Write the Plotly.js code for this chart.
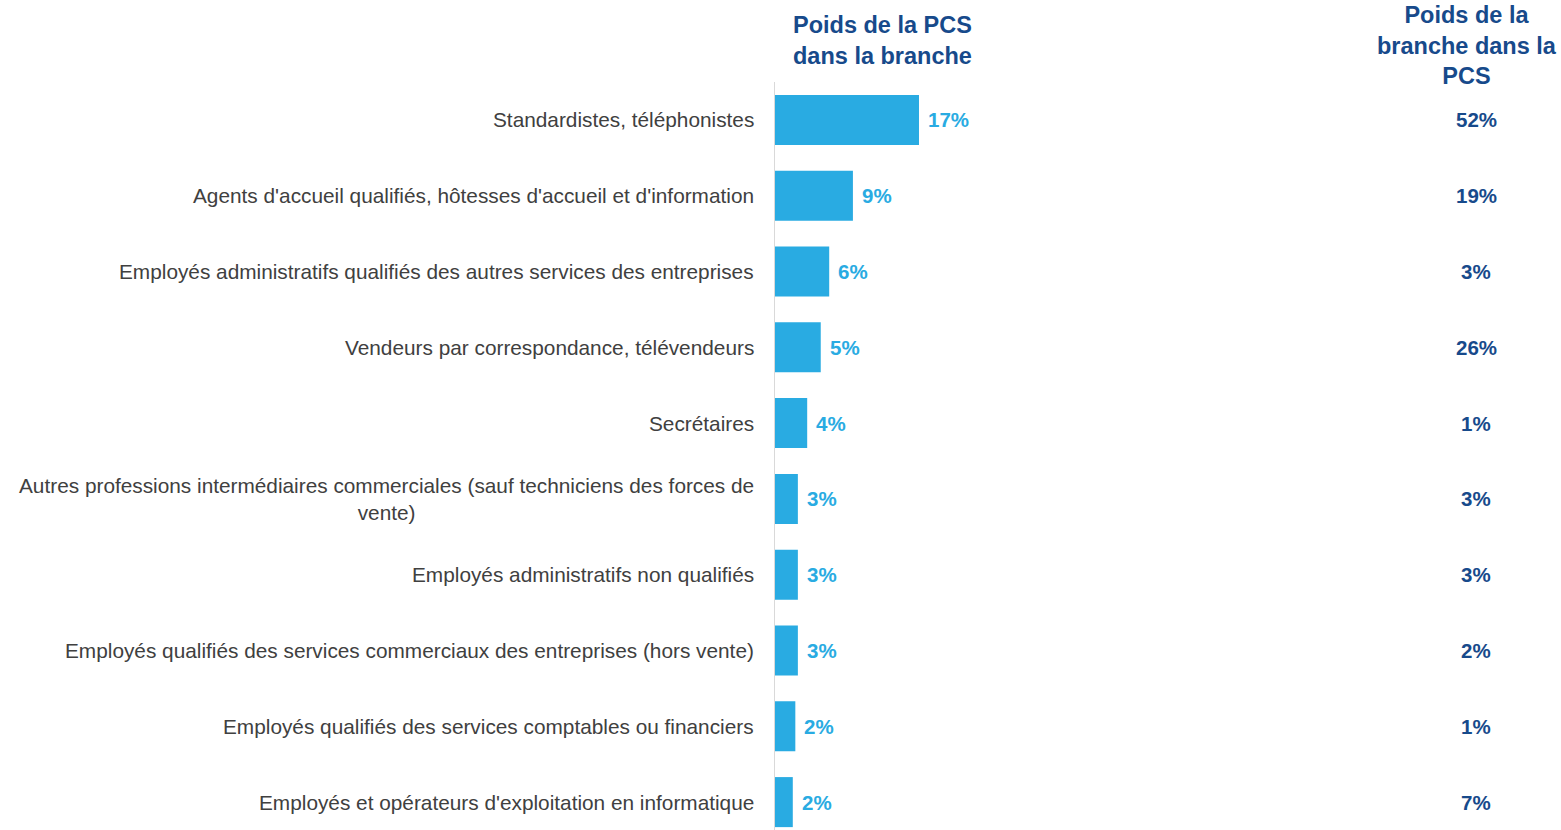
<!DOCTYPE html>
<html>
<head>
<meta charset="utf-8">
<script src="https://cdn.plot.ly/plotly-3.0.1.min.js"></script>
<style>html,body{margin:0;padding:0;background:#fff;}#chart{width:1561px;height:830px;}</style>
</head>
<body>
<div id="chart"></div>
<script>
const categories = [
  "Standardistes, téléphonistes",
  "Agents d'accueil qualifiés, hôtesses d'accueil et d'information",
  "Employés administratifs qualifiés des autres services des entreprises",
  "Vendeurs par correspondance, télévendeurs",
  "Secrétaires",
  "Autres professions intermédiaires commerciales (sauf techniciens des forces de<br>vente)",
  "Employés administratifs non qualifiés",
  "Employés qualifiés des services commerciaux des entreprises (hors vente)",
  "Employés qualifiés des services comptables ou financiers",
  "Employés et opérateurs d'exploitation en informatique"
];
const poidsPCSDansBranche = [17.0, 9.2, 6.4, 5.4, 3.8, 2.7, 2.7, 2.7, 2.4, 2.1];
const poidsPCSLabels = ["17%", "9%", "6%", "5%", "4%", "3%", "3%", "3%", "2%", "2%"];
const poidsBrancheDansPCS = ["52%", "19%", "3%", "26%", "1%", "3%", "3%", "2%", "1%", "7%"];
const header1 = "Poids de la PCS<br>dans la branche";
const header2 = "Poids de la<br>branche dans la<br>PCS";

const barColor = "#29ABE2";
const darkBlue = "#174A8B";
const ids = categories.map((c, i) => "c" + i);
const FONT = "Liberation Sans, Arial, sans-serif";

const annotations = [];
categories.forEach((c, i) => {
  annotations.push({
    x: 0, y: ids[i], xref: "x", yref: "y", text: c, showarrow: false,
    xanchor: "right", yanchor: "middle", align: "center", xshift: -19,
    font: {family: FONT, size: 20.8, color: "#404040"}
  });
  annotations.push({
    x: poidsPCSDansBranche[i], y: ids[i], xref: "x", yref: "y", text: "<b>" + poidsPCSLabels[i] + "</b>",
    showarrow: false, xanchor: "left", yanchor: "middle", xshift: 7,
    font: {family: FONT, size: 20.5, color: barColor}
  });
  annotations.push({
    x: 82.8, y: ids[i], xref: "x", yref: "y", text: "<b>" + poidsBrancheDansPCS[i] + "</b>",
    showarrow: false, xanchor: "center", yanchor: "middle",
    font: {family: FONT, size: 20.5, color: darkBlue}
  });
});
annotations.push({
  x: 12.75, y: 1.0555, xref: "x", yref: "paper", text: "<b>" + header1 + "</b>", showarrow: false,
  xanchor: "center", yanchor: "middle", align: "center",
  font: {family: FONT, size: 23.5, color: darkBlue}
});
annotations.push({
  x: 81.7, y: 1.0488, xref: "x", yref: "paper", text: "<b>" + header2 + "</b>", showarrow: false,
  xanchor: "center", yanchor: "middle", align: "center",
  font: {family: FONT, size: 23.5, color: darkBlue}
});

const trace = {
  type: "bar", orientation: "h",
  y: ids, x: poidsPCSDansBranche,
  marker: {color: barColor},
  width: 0.66,
  hoverinfo: "skip"
};

const layout = {
  width: 1561, height: 830,
  margin: {l: 775, r: 0, t: 82, b: 0, pad: 0},
  paper_bgcolor: "#fff", plot_bgcolor: "#fff",
  showlegend: false,
  xaxis: {range: [0, 92.8], visible: false, fixedrange: true},
  yaxis: {
    type: "category", categoryarray: ids, range: [9.368, -0.5],
    showticklabels: false, ticks: "", showgrid: false, zeroline: false,
    showline: true, linecolor: "#D9D9D9", linewidth: 1
  },
  annotations: annotations
};

Plotly.newPlot("chart", [trace], layout, {displayModeBar: false, staticPlot: true});
</script>
</body>
</html>
